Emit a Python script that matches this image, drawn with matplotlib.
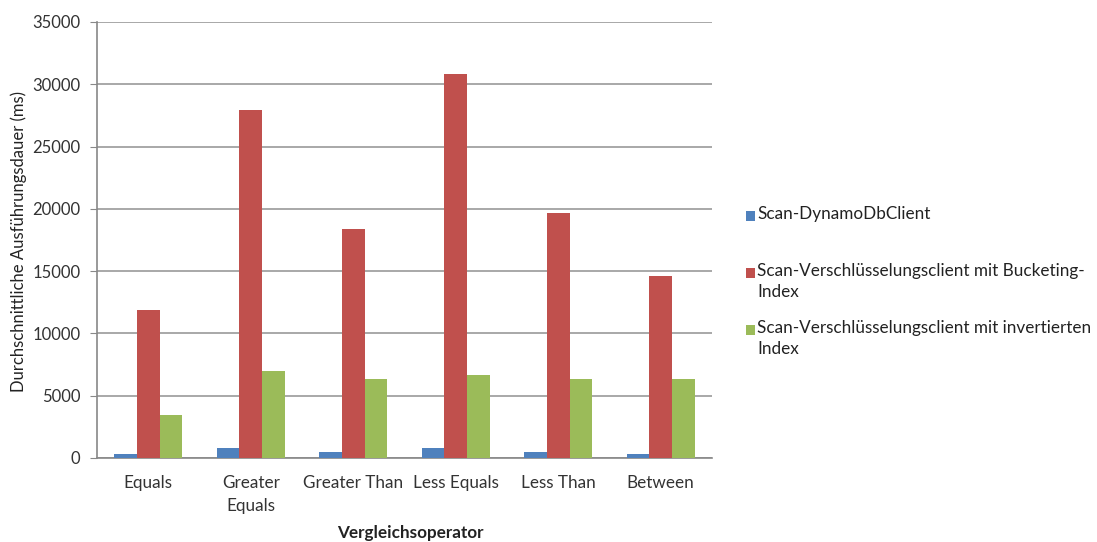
import matplotlib
matplotlib.use("Agg")
import matplotlib.pyplot as plt
from matplotlib.patches import Rectangle
import numpy as np

categories = ["Equals", "Greater\nEquals", "Greater Than", "Less Equals", "Less Than", "Between"]
series_names = ["Scan-DynamoDbClient",
                "Scan-Verschlüsselungsclient mit Bucketing-\nIndex",
                "Scan-Verschlüsselungsclient mit invertierten\nIndex"]
dynamo = [350, 800, 500, 800, 500, 350]
bucketing = [11900, 27900, 18350, 30800, 19650, 14600]
inverted = [3450, 7000, 6350, 6650, 6350, 6350]
yticks = [0, 5000, 10000, 15000, 20000, 25000, 30000, 35000]
colors = ["#4F81BD", "#C0504D", "#9BBB59"]

plt.rcParams['font.family'] = ['Lato', 'DejaVu Sans']
W, H = 1097, 542
fig = plt.figure(figsize=(W/100, H/100), dpi=100)
ax = fig.add_axes([97/W, 1-458/H, (712-97)/W, (458-22)/H])

x = np.arange(len(categories))
bw = 0.22
for i, (vals, c) in enumerate(zip([dynamo, bucketing, inverted], colors)):
    ax.bar(x + (i-1)*bw, vals, bw, color=c, zorder=3, linewidth=0)

ax.set_xlim(-0.5, len(categories)-0.5)
ax.set_ylim(0, 35000)
ax.set_yticks(yticks)
ax.set_yticklabels([str(v) for v in yticks], fontsize=12, color="#333333")
ax.set_xticks(x)
ax.set_xticklabels(categories, fontsize=12.3, color="#333333", linespacing=1.6)
ax.tick_params(axis='x', length=0, pad=12)
ax.tick_params(axis='y', length=5, color="#888888", pad=7)
ax.grid(axis='y', color="#999999", linewidth=1.2, zorder=0)
for s in ['top', 'right']:
    ax.spines[s].set_visible(False)
for s in ['left', 'bottom']:
    ax.spines[s].set_color("#888888")
    ax.spines[s].set_linewidth(1.2)

fig.text(19/W, 1-242/H, "Durchschnittliche Ausführungsdauer (ms)", fontsize=12, color="#222222",
         rotation=90, ha='center', va='center')
fig.text(410/W, 1-533/H, "Vergleichsoperator", fontsize=12.3, fontweight='bold', color="#222222",
         ha='center', va='center')

# legend (Excel style, handle aligned to first line)
leg_y = [216, 273, 330]
for name, c, yy in zip(series_names, colors, leg_y):
    fig.patches.append(Rectangle((746/W, 1-(yy+5)/H), 9/W, 10/H, transform=fig.transFigure,
                                 facecolor=c, edgecolor='none'))
    fig.text(757/W, 1-(yy-10)/H, name, fontsize=12.3, color="#222222", va='top', ha='left',
             linespacing=1.4)

fig.savefig("out.png", dpi=100, facecolor="white")
